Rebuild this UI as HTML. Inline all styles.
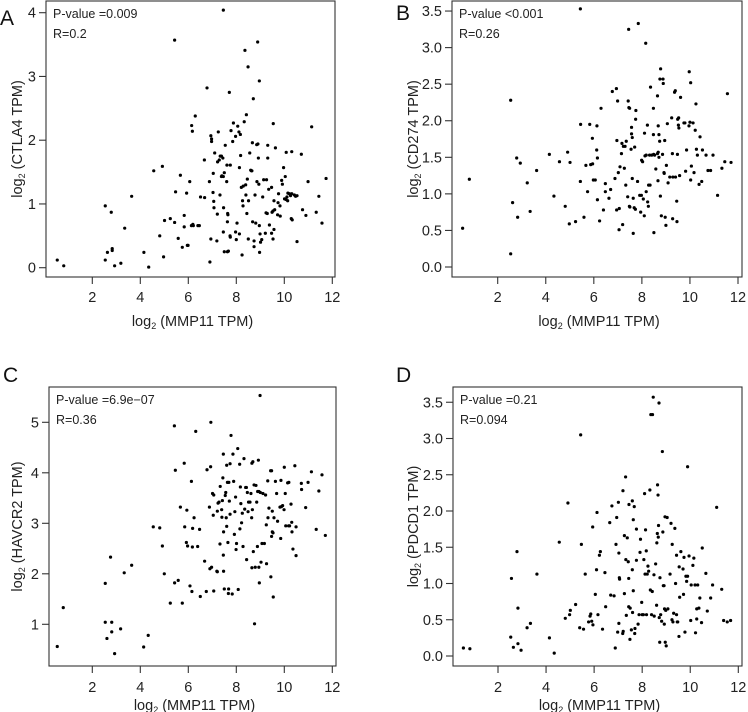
<!DOCTYPE html>
<html><head><meta charset="utf-8"><title>MMP11 correlation scatter plots</title>
<style>
html,body{margin:0;padding:0;background:#fff;}
svg{display:block;font-family:"Liberation Sans",Arial,sans-serif;}
</style></head>
<body>
<svg id="fig" width="748" height="712" viewBox="0 0 748 712" xmlns="http://www.w3.org/2000/svg"></svg>
<script>
// ---------- data (x = log2 MMP11 TPM, y = log2 gene TPM) ----------
const xTicks = [2, 4, 6, 8, 10, 12];
const xTickLabels = ["2", "4", "6", "8", "10", "12"];
const ticksA = [0, 1, 2, 3, 4];
const ticksA_lab = ["0", "1", "2", "3", "4"];
const ticksHalf = [0, 0.5, 1, 1.5, 2, 2.5, 3, 3.5];
const ticksHalf_lab = ["0.0", "0.5", "1.0", "1.5", "2.0", "2.5", "3.0", "3.5"];
const ticksC = [1, 2, 3, 4, 5];
const ticksC_lab = ["1", "2", "3", "4", "5"];

const ctla4Points = [[0.54,0.12],[0.81,0.03],[2.54,0.97],[2.54,0.12],[2.63,0.24],[2.79,0.87],[2.83,0.30],[2.83,0.27],[2.93,0.03],[3.19,0.07],[3.35,0.62],[3.64,1.12],[4.15,0.24],[4.35,0.01],[4.56,1.52],[4.81,0.50],[4.92,1.59],[4.97,0.17],[5.01,0.74],[5.25,0.77],[5.43,0.71],[5.43,3.57],[5.47,1.19],[5.58,0.46],[5.67,1.45],[5.75,0.32],[5.83,0.82],[5.83,0.64],[5.93,1.17],[5.96,0.35],[5.99,0.35],[6.06,1.35],[6.13,0.66],[6.14,2.23],[6.17,2.14],[6.19,0.68],[6.21,0.66],[6.29,2.38],[6.40,0.66],[6.46,0.66],[6.51,1.11],[6.67,1.69],[6.68,1.10],[6.78,2.82],[6.88,1.35],[6.90,0.09],[6.94,0.45],[6.94,2.07],[6.97,2.02],[6.97,1.98],[7.03,1.18],[7.04,1.48],[7.06,1.04],[7.07,0.94],[7.10,1.80],[7.19,0.42],[7.21,0.84],[7.22,1.66],[7.25,2.13],[7.29,1.69],[7.32,1.14],[7.33,1.75],[7.38,1.43],[7.38,1.75],[7.40,1.44],[7.44,1.72],[7.46,1.43],[7.46,0.56],[7.46,4.04],[7.47,0.94],[7.50,0.25],[7.50,1.49],[7.54,1.92],[7.60,1.35],[7.61,1.61],[7.63,0.72],[7.63,0.25],[7.64,0.85],[7.65,0.83],[7.67,0.26],[7.71,2.75],[7.74,0.50],[7.75,0.48],[7.75,1.61],[7.78,2.15],[7.85,1.98],[7.88,2.27],[7.97,2.06],[7.97,0.56],[8.00,0.44],[8.03,0.70],[8.06,2.22],[8.11,2.13],[8.13,0.53],[8.13,1.57],[8.17,2.09],[8.18,1.76],[8.21,1.26],[8.24,0.20],[8.26,1.05],[8.28,0.97],[8.29,1.28],[8.33,2.29],[8.36,3.41],[8.39,1.30],[8.40,1.14],[8.42,2.40],[8.44,0.85],[8.46,1.39],[8.49,3.15],[8.50,0.45],[8.51,1.05],[8.56,1.80],[8.60,1.53],[8.63,1.52],[8.65,1.52],[8.67,1.96],[8.68,0.72],[8.71,2.65],[8.74,0.33],[8.74,0.42],[8.78,1.14],[8.81,0.70],[8.85,1.93],[8.86,1.35],[8.89,3.54],[8.90,1.94],[8.92,1.72],[8.94,1.31],[8.96,0.66],[8.96,2.93],[8.97,0.24],[8.99,0.53],[9.01,0.40],[9.06,0.44],[9.10,1.11],[9.14,1.38],[9.21,0.54],[9.24,0.86],[9.26,1.38],[9.29,0.85],[9.31,1.72],[9.31,1.92],[9.35,1.23],[9.38,0.67],[9.47,1.26],[9.47,0.54],[9.49,0.87],[9.53,0.89],[9.53,0.45],[9.54,2.26],[9.57,0.60],[9.57,1.05],[9.60,0.91],[9.63,1.88],[9.72,0.83],[9.74,1.02],[9.76,1.16],[9.82,0.97],[9.83,0.81],[9.89,1.37],[9.92,1.31],[9.97,1.57],[10.01,1.08],[10.04,1.43],[10.07,1.07],[10.08,1.81],[10.11,1.11],[10.14,1.05],[10.15,1.17],[10.21,1.16],[10.26,1.13],[10.29,0.77],[10.31,1.16],[10.31,1.82],[10.33,0.75],[10.42,1.14],[10.47,1.12],[10.53,1.13],[10.53,0.41],[10.71,1.78],[10.76,0.91],[10.90,0.82],[10.99,1.35],[11.14,2.21],[11.33,0.87],[11.44,1.12],[11.57,0.70],[11.74,1.40]];

const cd274Points = [[0.54,0.53],[0.82,1.20],[2.54,2.28],[2.54,0.18],[2.62,0.88],[2.79,1.49],[2.83,0.68],[2.94,1.42],[3.23,1.15],[3.35,0.76],[3.62,1.32],[4.15,1.54],[4.34,0.97],[4.57,1.44],[4.81,0.83],[4.91,1.57],[4.98,0.59],[5.01,1.43],[5.24,0.62],[5.44,3.53],[5.44,1.17],[5.45,1.95],[5.59,0.68],[5.74,1.03],[5.67,1.39],[5.83,1.95],[5.87,1.40],[5.94,1.76],[5.95,1.41],[5.98,1.19],[6.06,1.19],[6.12,1.60],[6.13,1.93],[6.15,0.92],[6.15,1.49],[6.24,0.63],[6.30,2.17],[6.40,0.78],[6.48,1.14],[6.48,1.03],[6.63,0.94],[6.70,1.06],[6.77,2.40],[6.88,1.21],[6.94,2.44],[6.95,0.78],[6.96,1.73],[6.99,2.27],[7.02,1.29],[7.05,0.51],[7.06,0.80],[7.09,1.37],[7.15,1.55],[7.17,1.69],[7.20,0.58],[7.23,1.65],[7.27,1.35],[7.30,1.65],[7.33,1.12],[7.35,1.72],[7.41,0.96],[7.43,2.27],[7.45,3.25],[7.46,2.18],[7.48,0.83],[7.49,2.17],[7.50,0.82],[7.55,1.61],[7.57,1.91],[7.57,1.82],[7.60,1.21],[7.60,1.77],[7.64,0.46],[7.64,0.94],[7.68,0.81],[7.70,1.64],[7.73,0.79],[7.74,2.02],[7.75,2.14],[7.82,1.17],[7.85,3.33],[7.91,0.98],[7.95,0.75],[7.98,0.98],[7.99,1.46],[8.03,1.44],[8.06,0.93],[8.10,0.70],[8.11,1.83],[8.13,1.52],[8.16,3.06],[8.18,1.03],[8.18,1.53],[8.23,1.94],[8.24,0.89],[8.27,0.83],[8.28,1.12],[8.32,1.53],[8.34,1.12],[8.36,2.46],[8.41,1.53],[8.48,1.81],[8.48,2.17],[8.49,1.54],[8.50,0.47],[8.53,1.53],[8.58,1.34],[8.65,1.55],[8.65,2.34],[8.67,1.18],[8.68,1.57],[8.68,1.93],[8.71,1.50],[8.71,1.81],[8.74,1.72],[8.75,2.57],[8.77,0.97],[8.78,2.71],[8.81,0.70],[8.86,1.54],[8.88,2.57],[8.89,2.51],[8.92,1.29],[8.93,1.28],[8.95,1.73],[8.97,0.68],[9.00,0.57],[9.02,1.39],[9.06,1.96],[9.09,1.15],[9.16,1.23],[9.24,2.04],[9.27,1.55],[9.28,0.66],[9.29,1.23],[9.36,2.39],[9.39,2.41],[9.40,1.23],[9.45,0.90],[9.46,0.62],[9.48,1.54],[9.49,2.02],[9.52,1.94],[9.53,2.04],[9.54,1.90],[9.57,1.25],[9.61,2.32],[9.75,1.97],[9.79,1.97],[9.82,1.31],[9.86,1.60],[9.96,1.93],[9.97,2.67],[10.00,1.98],[10.03,2.52],[10.03,1.19],[10.06,1.38],[10.13,1.97],[10.17,1.29],[10.22,1.87],[10.25,2.23],[10.27,1.61],[10.31,1.53],[10.38,1.13],[10.42,1.78],[10.49,1.17],[10.52,1.60],[10.67,1.53],[10.75,1.32],[10.86,1.32],[10.96,1.53],[11.15,0.98],[11.33,1.35],[11.45,1.44],[11.56,2.37],[11.71,1.43]];

const havcr2Points = [[0.54,0.56],[0.79,1.33],[2.54,1.81],[2.54,1.04],[2.61,0.72],[2.76,2.33],[2.81,1.04],[2.81,0.85],[2.93,0.42],[3.18,0.91],[3.33,2.02],[3.64,2.17],[4.14,0.55],[4.33,0.78],[4.54,2.93],[4.81,2.91],[4.92,2.55],[5.00,2.00],[5.25,1.42],[5.42,4.93],[5.43,1.82],[5.46,4.05],[5.58,1.87],[5.67,3.32],[5.75,1.42],[5.83,4.19],[5.85,2.93],[5.92,2.62],[5.94,3.26],[5.97,2.55],[6.07,1.76],[6.13,3.83],[6.15,1.65],[6.17,2.53],[6.18,2.90],[6.24,3.11],[6.31,4.82],[6.39,2.54],[6.47,2.88],[6.50,1.55],[6.68,2.25],[6.75,1.65],[6.78,4.06],[6.88,3.32],[6.90,2.10],[6.93,4.12],[6.94,5.00],[6.97,2.13],[7.01,3.59],[7.04,3.16],[7.06,3.56],[7.06,1.66],[7.19,2.05],[7.21,2.04],[7.21,3.24],[7.24,3.40],[7.28,3.42],[7.32,2.59],[7.33,3.73],[7.39,3.27],[7.40,3.12],[7.42,3.45],[7.44,3.90],[7.46,2.37],[7.46,4.37],[7.47,2.83],[7.47,2.05],[7.50,1.70],[7.54,3.55],[7.56,3.61],[7.58,3.11],[7.60,4.15],[7.60,2.94],[7.63,3.81],[7.65,2.62],[7.67,1.61],[7.68,1.70],[7.69,3.81],[7.71,3.44],[7.74,4.18],[7.74,3.18],[7.78,4.74],[7.83,1.60],[7.86,4.37],[7.89,3.83],[7.92,2.78],[7.94,3.23],[7.97,3.52],[7.99,2.48],[8.01,2.60],[8.06,4.48],[8.08,1.69],[8.14,4.17],[8.15,2.89],[8.17,3.72],[8.19,3.39],[8.22,3.01],[8.25,3.20],[8.28,2.54],[8.32,4.28],[8.35,3.28],[8.39,3.71],[8.42,3.71],[8.43,2.28],[8.46,3.61],[8.49,3.23],[8.51,3.42],[8.57,3.42],[8.61,3.59],[8.64,3.11],[8.65,2.12],[8.65,4.19],[8.67,3.27],[8.69,4.22],[8.71,2.44],[8.74,3.76],[8.76,1.01],[8.79,2.13],[8.82,3.75],[8.85,3.42],[8.88,2.54],[8.89,3.63],[8.92,4.25],[8.94,3.63],[8.94,2.13],[8.96,1.82],[8.99,5.53],[9.00,3.61],[9.03,2.23],[9.07,2.60],[9.11,3.59],[9.17,2.60],[9.22,3.56],[9.25,2.97],[9.26,2.20],[9.31,3.84],[9.32,3.11],[9.36,3.30],[9.43,4.04],[9.44,1.94],[9.47,2.74],[9.47,4.04],[9.50,3.24],[9.50,2.83],[9.53,2.81],[9.54,1.54],[9.57,3.11],[9.63,3.83],[9.68,3.59],[9.72,3.04],[9.82,3.32],[9.85,2.70],[9.86,3.85],[9.88,3.33],[9.93,3.35],[9.99,3.27],[10.00,4.11],[10.04,3.59],[10.06,2.95],[10.14,3.80],[10.18,2.95],[10.19,3.81],[10.22,2.95],[10.28,3.38],[10.31,3.02],[10.32,2.83],[10.36,2.49],[10.44,4.14],[10.49,2.93],[10.49,2.36],[10.71,3.79],[10.72,3.67],[10.89,3.31],[10.99,3.81],[11.13,4.02],[11.33,2.88],[11.44,3.64],[11.57,3.96],[11.71,2.76]];

const pdcd1Points = [[0.56,0.11],[0.83,0.10],[2.53,0.26],[2.56,1.07],[2.64,0.12],[2.79,1.44],[2.83,0.17],[2.83,0.66],[2.96,0.08],[3.21,0.39],[3.35,0.45],[3.62,1.13],[4.14,0.25],[4.34,0.04],[4.55,1.57],[4.80,0.52],[4.91,2.11],[4.98,0.57],[5.01,0.63],[5.23,0.71],[5.40,0.39],[5.44,3.05],[5.47,1.54],[5.56,0.37],[5.63,1.13],[5.77,0.47],[5.83,0.55],[5.86,0.58],[5.90,0.48],[5.94,1.78],[5.95,0.43],[6.05,0.85],[6.10,1.19],[6.12,1.98],[6.16,0.57],[6.22,1.39],[6.26,1.44],[6.35,0.37],[6.45,1.15],[6.48,0.68],[6.65,1.84],[6.69,0.84],[6.74,2.07],[6.83,0.83],[6.88,0.11],[6.91,1.54],[6.94,1.91],[6.98,0.33],[7.01,2.12],[7.03,0.45],[7.03,1.42],[7.05,1.08],[7.06,1.06],[7.19,0.31],[7.20,2.28],[7.21,0.34],[7.26,0.86],[7.26,1.66],[7.31,2.47],[7.32,1.33],[7.34,0.56],[7.38,1.63],[7.42,1.30],[7.44,1.07],[7.44,0.68],[7.45,2.09],[7.49,0.23],[7.50,0.66],[7.55,0.36],[7.59,1.19],[7.59,2.14],[7.60,0.60],[7.63,0.90],[7.63,1.88],[7.67,2.06],[7.69,0.31],[7.70,0.38],[7.76,1.75],[7.76,1.32],[7.83,0.44],[7.87,0.57],[7.91,1.43],[7.93,1.61],[7.98,0.74],[8.00,0.57],[8.05,0.57],[8.07,1.33],[8.10,2.24],[8.12,1.13],[8.14,1.74],[8.17,1.45],[8.18,0.57],[8.21,1.13],[8.24,1.24],[8.27,1.17],[8.32,2.29],[8.34,0.91],[8.36,3.33],[8.39,0.57],[8.42,0.89],[8.43,3.33],[8.46,3.57],[8.49,1.12],[8.50,0.55],[8.56,1.27],[8.60,0.70],[8.61,1.56],[8.63,1.69],[8.64,2.36],[8.66,2.22],[8.67,1.64],[8.68,1.80],[8.70,3.49],[8.71,0.53],[8.73,0.19],[8.74,1.08],[8.77,0.57],[8.81,0.48],[8.84,2.82],[8.86,1.71],[8.88,0.97],[8.91,0.97],[8.92,0.44],[8.93,0.65],[8.95,1.92],[8.96,0.19],[8.98,0.63],[9.00,0.14],[9.04,1.91],[9.07,0.65],[9.16,1.13],[9.20,1.83],[9.24,0.50],[9.25,1.54],[9.28,0.47],[9.31,0.59],[9.36,1.76],[9.39,1.00],[9.43,0.57],[9.43,1.39],[9.46,0.47],[9.48,0.47],[9.53,0.27],[9.54,1.23],[9.56,0.81],[9.61,1.44],[9.70,1.20],[9.72,0.85],[9.74,1.36],[9.78,0.33],[9.82,1.10],[9.85,1.03],[9.89,2.61],[9.89,1.10],[9.95,1.38],[10.02,0.49],[10.04,0.98],[10.11,1.25],[10.15,1.35],[10.20,0.98],[10.22,0.32],[10.27,0.51],[10.27,0.65],[10.31,0.98],[10.36,0.66],[10.40,0.80],[10.47,0.46],[10.50,1.49],[10.65,1.14],[10.71,0.62],[10.85,0.80],[10.93,0.98],[11.10,2.05],[11.31,0.92],[11.39,0.49],[11.54,0.47],[11.68,0.49]];

// ---------- drawing ----------
const NS = "http://www.w3.org/2000/svg";
const svg = document.getElementById("fig");
function mk(tag, attrs, parent) {
  const e = document.createElementNS(NS, tag);
  for (const k in attrs) e.setAttribute(k, attrs[k]);
  (parent || svg).appendChild(e);
  return e;
}

const panels = [
  {key:"a", letter:"A", pts:ctla4Points, gene:"CTLA4", yt:ticksA, ytl:ticksA_lab, p:"P-value =0.009", r:"R=0.2",
   L:46, R:335, T:1, B:277, x2:92.3, xu:24, y0:267.7, yu:63.75, lx:0, ly:25, titleX:17, tickDy:25, titleDy:49},
  {key:"b", letter:"B", pts:cd274Points, gene:"CD274", yt:ticksHalf, ytl:ticksHalf_lab, p:"P-value <0.001", r:"R=0.26",
   L:452, R:742, T:1, B:277, x2:497.7, xu:24.03, y0:267, yu:73.13, lx:396, ly:20, titleX:413, tickDy:25, titleDy:49},
  {key:"c", letter:"C", pts:havcr2Points, gene:"HAVCR2", yt:ticksC, ytl:ticksC_lab, p:"P-value =6.9e\u221207", r:"R=0.36",
   L:49, R:336, T:387, B:666, x2:92.3, xu:24, y0:674.8, yu:50.5, lx:3, ly:382, titleX:17, tickDy:26, titleDy:44},
  {key:"d", letter:"D", pts:pdcd1Points, gene:"PDCD1", yt:ticksHalf, ytl:ticksHalf_lab, p:"P-value =0.21", r:"R=0.094",
   L:453, R:742, T:387, B:666, x2:498, xu:24.03, y0:656, yu:72.5, lx:396, ly:382, titleX:413, tickDy:26, titleDy:44}
];

panels.forEach(cfg => {
  const sx = v => cfg.x2 + (v - 2) * cfg.xu;
  const sy = v => cfg.y0 - v * cfg.yu;
  const g = mk("g", {});
  
  

  const letter = mk("text", {x: cfg.lx, y: cfg.ly, "font-size": 21, fill: "#111"}, g);
  letter.textContent = cfg.letter;
  
  

  const box = mk("rect", {x: cfg.L, y: cfg.T, width: cfg.R - cfg.L, height: cfg.B - cfg.T, fill: "none", stroke: "#333", "stroke-width": 1.1}, g);
  
  

  xTicks.forEach((v, i) => {
    const t = mk("line", {x1: sx(v), x2: sx(v), y1: cfg.B, y2: cfg.B + 7, stroke: "#333", "stroke-width": 1.1}, g);
    
    
    const lb = mk("text", {x: sx(v), y: cfg.B + cfg.tickDy, "font-size": 14.5, fill: "#222", "text-anchor": "middle"}, g);
    lb.textContent = xTickLabels[i];
    
    
  });
  cfg.yt.forEach((v, i) => {
    const t = mk("line", {x1: cfg.L - 7, x2: cfg.L, y1: sy(v), y2: sy(v), stroke: "#333", "stroke-width": 1.1}, g);
    
    
    const lb = mk("text", {x: cfg.L - 10, y: sy(v) + 5, "font-size": 14.5, fill: "#222", "text-anchor": "end"}, g);
    lb.textContent = cfg.ytl[i];
    
    
  });

  const xt = mk("text", {x: (cfg.L + cfg.R) / 2 + 2, y: cfg.B + cfg.titleDy, "font-size": 14.5, fill: "#222", "text-anchor": "middle"}, g);
  xt.innerHTML = 'log<tspan font-size="9" dy="3">2</tspan><tspan dy="-3"> (MMP11 TPM)</tspan>';
  
  

  const cy = (cfg.T + cfg.B) / 2;
  const yt = mk("text", {x: cfg.titleX, y: cy, "font-size": 14.5, fill: "#222", "text-anchor": "middle",
    transform: "rotate(-90 " + cfg.titleX + " " + cy + ")", dy: "5"}, g);
  yt.innerHTML = 'log<tspan font-size="9" dy="3">2</tspan><tspan dy="-3"> (' + cfg.gene + ' TPM)</tspan>';
  
  

  const pt = mk("text", {x: cfg.L + 7, y: cfg.T + 17, "font-size": 12.5, fill: "#222"}, g);
  pt.textContent = cfg.p;
  
  
  const rt = mk("text", {x: cfg.L + 7, y: cfg.T + 37, "font-size": 12.5, fill: "#222"}, g);
  rt.textContent = cfg.r;
  
  

  cfg.pts.forEach(d => {
    const c = mk("circle", {cx: sx(d[0]), cy: sy(d[1]), r: 1.6, fill: "#000"}, g);
    
    
  });
});
</script>
</body></html>
